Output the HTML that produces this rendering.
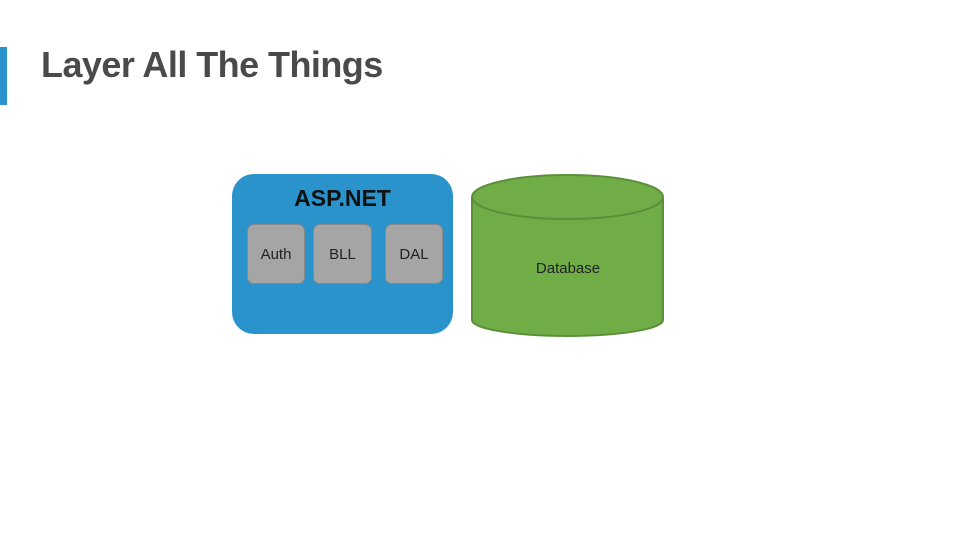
<!DOCTYPE html>
<html><head><style>
body{margin:0;width:960px;height:540px;background:#fff;position:relative;overflow:hidden;font-family:"Liberation Sans",sans-serif}
.bar{position:absolute;left:0;top:47px;width:7px;height:58px;background:#2a93cb}
.title{position:absolute;left:41px;top:44px;font-size:36px;font-weight:bold;color:#4a4a4a;letter-spacing:-0.55px}
.asp{position:absolute;left:232px;top:174px;width:221px;height:160px;background:#2a93cb;border-radius:22px}
.asp .h{position:absolute;left:0;width:100%;top:11px;text-align:center;font-size:23px;font-weight:bold;color:#111}
.b{position:absolute;top:50px;background:#a5a5a5;border:1.5px solid #888;border-radius:7px;font-size:15px;color:#222;text-align:center;box-sizing:border-box;height:60px;line-height:60px}
</style></head><body>
<div class="bar"></div>
<div class="title">Layer All The Things</div>
<div class="asp"><div class="h">ASP.NET</div>
<div class="b" style="left:15px;width:58px">Auth</div>
<div class="b" style="left:81px;width:59px">BLL</div>
<div class="b" style="left:153px;width:58px">DAL</div>
</div>
<svg style="position:absolute;left:0;top:0" width="960" height="540">
<path d="M472 197 L472 320 A95.5 16 0 0 0 663 320 L663 197" fill="#70ad47" stroke="#5b8f3a" stroke-width="2"/>
<ellipse cx="567.5" cy="197" rx="95.5" ry="22" fill="#70ad47" stroke="#5b8f3a" stroke-width="2"/>
<text x="568" y="273" font-size="15" text-anchor="middle" fill="#222" font-family="Liberation Sans, sans-serif">Database</text>
</svg>
</body></html>
